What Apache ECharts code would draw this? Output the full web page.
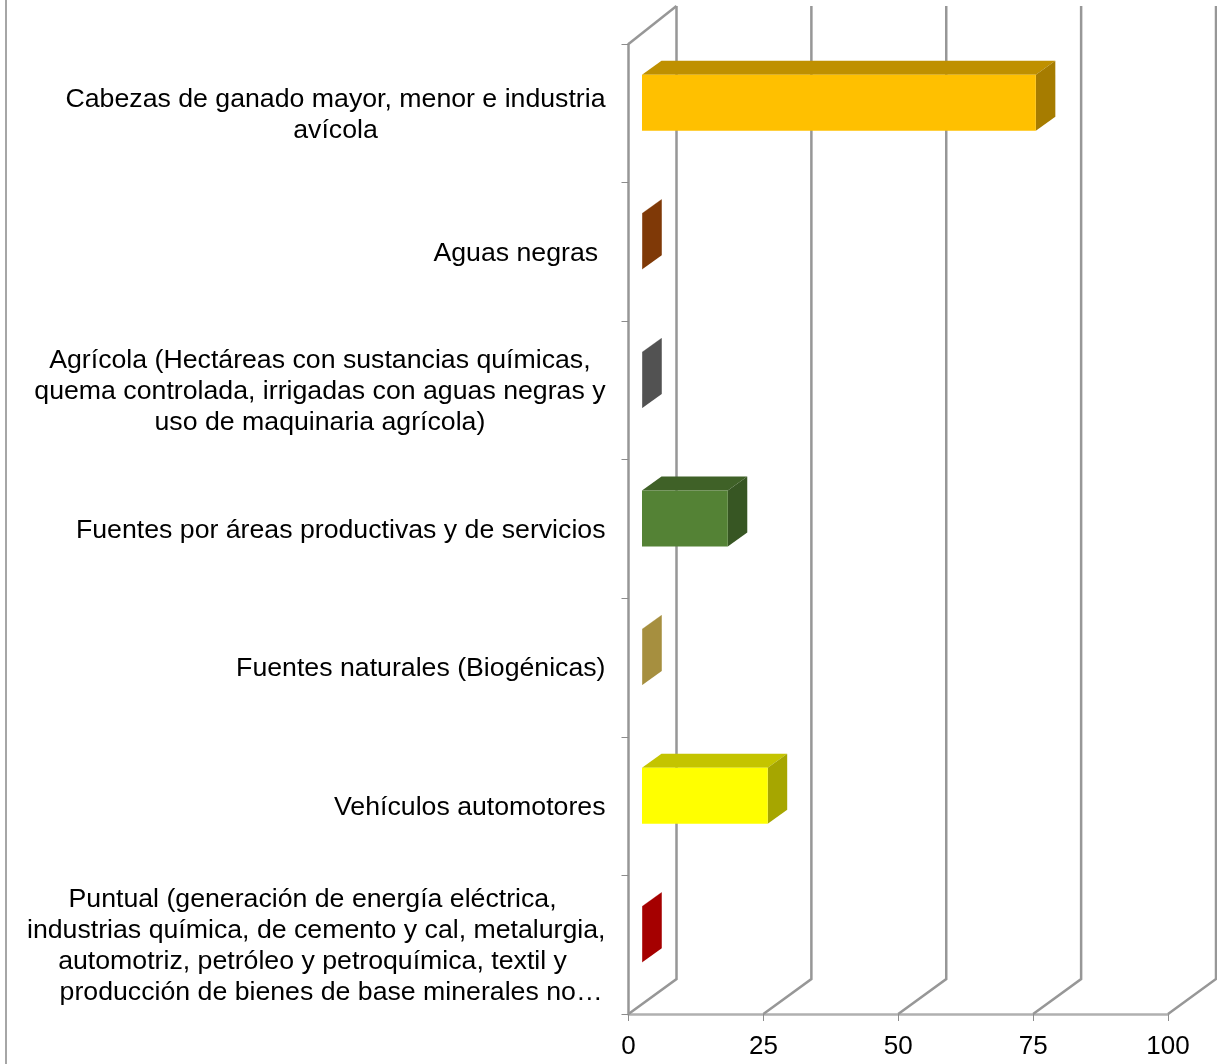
<!DOCTYPE html>
<html>
<head>
<meta charset="utf-8">
<style>html,body{margin:0;padding:0;background:#fff}#c{width:1217px;height:1064px}</style>
<script src="https://cdn.jsdelivr.net/npm/echarts@6/dist/echarts.min.js"></script>
</head>
<body>
<div id="c"></div>
<script>
const categories = [
  ['Cabezas de ganado mayor, menor e industria', 'avícola'],
  ['Aguas negras '],
  ['Agrícola (Hectáreas con sustancias químicas,', 'quema controlada, irrigadas con aguas negras y', 'uso de maquinaria agrícola)'],
  ['Fuentes por áreas productivas y de servicios'],
  ['Fuentes naturales (Biogénicas)'],
  ['Vehículos automotores'],
  ['Puntual (generación de energía eléctrica, ', 'industrias química, de cemento y cal, metalurgia,', 'automotriz, petróleo y petroquímica, textil y ', '    producción de bienes de base minerales no…']
];
const values = [73, 0.05, 0.05, 15.9, 0.05, 23.3, 0.05];
const valueTicks = [0, 25, 50, 75, 100];
const faceColors = ['#FFC000', '#843C0C', '#525252', '#548235', '#A68F3F', '#FFFF00', '#A50000'];
const topColors  = ['#BF9000', '#843C0C', '#525252', '#3F6127', '#A68F3F', '#C4C400', '#A50000'];
const sideColors = ['#A67C00', '#7F3907', '#525252', '#375623', '#A68F3F', '#A6A600', '#A50000'];

const WALL = {dx: 48, dy: -35, rise: 3};
const BAR = {shiftX: 13.5, shiftY: -10.5, dx: 19.5, dy: -14, ratio: 0.404};
const GRAY = '#979797';

const chart = echarts.init(document.getElementById('c'));
chart.setOption({
  animation: false,
  backgroundColor: '#fff',
  textStyle: {fontFamily: '"Liberation Sans", Arial, sans-serif'},
  graphic: [{
    type: 'rect', silent: true, z: 0,
    shape: {x: 5, y: 0, width: 2, height: 1064},
    style: {fill: '#A6A6A6'}
  }],
  grid: {left: 628.5, top: 44, width: 539.5, height: 970, containLabel: false},
  xAxis: {
    type: 'value', min: 0, max: 100, interval: 25,
    splitLine: {show: false},
    axisLine: {show: true, onZero: false, lineStyle: {color: '#B0B0B0', width: 2.5}},
    axisTick: {show: true, length: 7, lineStyle: {color: '#8C8C8C', width: 1}},
    axisLabel: {
      color: '#000', fontSize: 26, margin: 20,
      fontFamily: '"Liberation Sans", Arial, sans-serif',
      showMinLabel: true, showMaxLabel: true
    }
  },
  yAxis: {
    type: 'category', inverse: true,
    data: categories.map(l => l.join('\n')),
    splitLine: {show: false},
    axisLine: {show: true, onZero: false, lineStyle: {color: GRAY, width: 2.5}},
    axisTick: {show: true, length: 7, lineStyle: {color: '#8C8C8C', width: 1}},
    axisLabel: {
      interval: 0, margin: 23,
      formatter: v => v.split('\n').map(s => '{c|' + s + '}').join('\n'),
      rich: {c: {
        align: 'center', fontSize: 26.7, lineHeight: 30.8, color: '#000',
        fontFamily: '"Liberation Sans", Arial, sans-serif',
        padding: [3, 0, 0, 0]
      }}
    }
  },
  series: [
    {
      type: 'custom', coordinateSystem: 'cartesian2d', silent: true, z: 1, clip: false,
      data: valueTicks.map(v => [v, 0]),
      encode: {x: 0, y: 1},
      renderItem(params, api) {
        const cs = params.coordSys;
        const x = api.coord([api.value(0), 0])[0];
        const bottom = cs.y + cs.height;
        const bx = x + WALL.dx, by = bottom + WALL.dy;
        const topY = cs.y + WALL.dy - WALL.rise;
        const style = {stroke: GRAY, lineWidth: 2.5, fill: null};
        const children = [
          {type: 'polyline', shape: {points: [[x, bottom], [bx, by], [bx, topY]]}, style}
        ];
        if (api.value(0) === 0) {
          children.push({type: 'line', shape: {x1: x, y1: cs.y, x2: bx, y2: topY}, style});
        }
        return {type: 'group', children};
      }
    },
    {
      type: 'custom', coordinateSystem: 'cartesian2d', silent: true, z: 2, clip: false,
      data: values.map((v, i) => [v, i]),
      encode: {x: 0, y: 1},
      renderItem(params, api) {
        const i = api.value(1);
        const yc = api.coord([0, i])[1] + BAR.shiftY;
        const h = api.size([0, 1])[1] * BAR.ratio;
        const x0 = api.coord([0, i])[0] + BAR.shiftX;
        const x1 = api.coord([api.value(0), i])[0] + BAR.shiftX;
        const yt = yc - h / 2, yb = yc + h / 2;
        const {dx, dy} = BAR;
        return {type: 'group', children: [
          {type: 'polygon', shape: {points: [[x0, yt], [x0 + dx, yt + dy], [x1 + dx, yt + dy], [x1, yt]]}, style: {fill: topColors[i]}},
          {type: 'polygon', shape: {points: [[x1, yt], [x1 + dx, yt + dy], [x1 + dx, yb + dy], [x1, yb]]}, style: {fill: sideColors[i]}},
          {type: 'rect', shape: {x: x0, y: yt, width: x1 - x0, height: yb - yt}, style: {fill: faceColors[i]}}
        ]};
      }
    }
  ]
});
</script>
</body>
</html>
